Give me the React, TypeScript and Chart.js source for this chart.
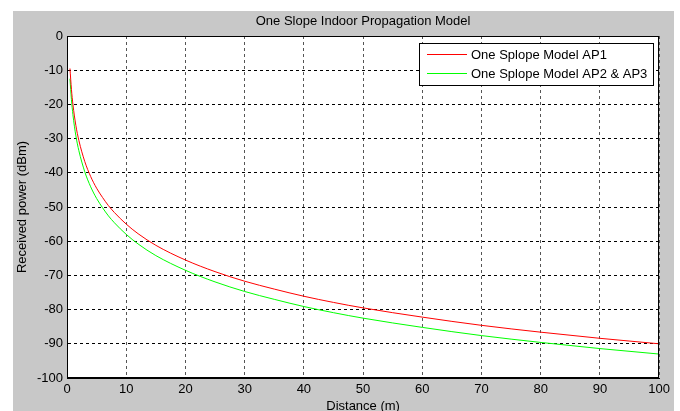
import React, { useEffect, useRef } from "react";
import { Chart, registerables } from "chart.js";

Chart.register(...registerables);

const chartTitle = "One Slope Indoor Propagation Model";
const xTitle = "Distance (m)";
const yTitle = "Received power (dBm)";
const seriesNames = ["One Splope Model AP1", "One Splope Model AP2 & AP3"];

const distances = [0.5, 0.75, 1, 1.5, 2, 3, 4, 5, 6, 7, 8, 10, 12, 15, 20, 25, 30, 35, 40, 45, 50, 60, 70, 80, 90, 100];
const apOne = [-9.5, -15.6, -20, -26.2, -30.5, -36.7, -41.1, -44.5, -47.2, -49.6, -51.6, -55, -57.8, -61.2, -65.5, -68.9, -71.7, -74, -76.1, -77.9, -79.5, -82.2, -84.6, -86.6, -88.4, -90];
const apTwoThree = [-12.5, -18.6, -23, -29.2, -33.5, -39.7, -44.1, -47.5, -50.2, -52.6, -54.6, -58, -60.8, -64.2, -68.5, -71.9, -74.7, -77, -79.1, -80.9, -82.5, -85.2, -87.6, -89.6, -91.4, -93];

const FONT = "'Liberation Sans', Arial, sans-serif";

const framePlugin = {
  id: "frame",
  beforeDraw(chart: any) {
    const { ctx, chartArea, width, height } = chart;
    ctx.save();
    ctx.fillStyle = "#c8c8c8";
    ctx.fillRect(0, 0, width, height);
    ctx.fillStyle = "#ffffff";
    ctx.fillRect(chartArea.left, chartArea.top, chartArea.right - chartArea.left, chartArea.bottom - chartArea.top);
    ctx.restore();
  },
  afterDraw(chart: any) {
    const { ctx, chartArea } = chart;
    ctx.save();
    ctx.strokeStyle = "#000";
    ctx.lineWidth = 1;
    ctx.strokeRect(
      Math.round(chartArea.left) + 0.5,
      Math.round(chartArea.top) + 0.5,
      Math.round(chartArea.right - chartArea.left) - 1,
      Math.round(chartArea.bottom - chartArea.top) - 1
    );
    // legend box
    ctx.font = "13px " + FONT;
    const sets = chart.data.datasets;
    let maxW = 0;
    sets.forEach((d: any) => {
      maxW = Math.max(maxW, ctx.measureText(d.label).width);
    });
    const boxW = Math.round(52 + maxW + 6);
    const boxH = 42;
    const bx = Math.round(chartArea.right) - 6 - boxW;
    const by = Math.round(chartArea.top) + 7;
    ctx.fillStyle = "#fff";
    ctx.fillRect(bx, by, boxW, boxH);
    ctx.strokeStyle = "#000";
    ctx.strokeRect(bx + 0.5, by + 0.5, boxW, boxH);
    sets.forEach((d: any, i: number) => {
      const cy = by + 11 + i * 19;
      ctx.strokeStyle = d.borderColor;
      ctx.lineWidth = 1;
      ctx.beginPath();
      ctx.moveTo(bx + 8, cy + 0.5);
      ctx.lineTo(bx + 48, cy + 0.5);
      ctx.stroke();
      ctx.fillStyle = "#000";
      ctx.textBaseline = "middle";
      ctx.textAlign = "left";
      ctx.fillText(d.label, bx + 52, cy + 1);
    });
    ctx.restore();
  },
};

export default function App() {
  const ref = useRef<HTMLCanvasElement | null>(null);

  useEffect(() => {
    document.body.style.margin = "0";
    if (!ref.current) return;
    const chart = new Chart(ref.current, {
      type: "line",
      data: {
        datasets: [
          {
            label: seriesNames[0],
            data: distances.map((d, i) => ({ x: d, y: apOne[i] })),
            borderColor: "#ff0000",
            borderWidth: 1,
            pointRadius: 0,
            cubicInterpolationMode: "monotone",
          },
          {
            label: seriesNames[1],
            data: distances.map((d, i) => ({ x: d, y: apTwoThree[i] })),
            borderColor: "#00ff00",
            borderWidth: 1,
            pointRadius: 0,
            cubicInterpolationMode: "monotone",
          },
        ],
      },
      options: {
        animation: false,
        responsive: false,
        maintainAspectRatio: false,
        devicePixelRatio: 1,
        layout: { padding: { left: 0, right: 14, top: 0, bottom: 0 } },
        plugins: {
          legend: { display: false },
          tooltip: { enabled: false },
          title: {
            display: true,
            fullSize: false,
            text: chartTitle,
            color: "#000",
            font: { family: FONT, size: 13, weight: "normal" },
            padding: { top: 2.2, bottom: 7.2 },
          },
        },
        scales: {
          x: {
            type: "linear",
            min: 0,
            max: 100,
            afterFit: (s: any) => {
              s.height = 33;
            },
            ticks: {
              stepSize: 10,
              color: "#000",
              padding: 4,
              maxRotation: 0,
              font: { family: FONT, size: 13 },
            },
            grid: {
              color: "#555",
              lineWidth: 1,
              drawTicks: false,
            },
            border: { display: true, color: "#000", width: 1, dash: [3, 3] },
            title: {
              display: true,
              text: xTitle,
              color: "#000",
              font: { family: FONT, size: 13 },
              padding: { top: 0, bottom: -3 },
            },
          },
          y: {
            type: "linear",
            min: -100,
            max: 0,
            afterFit: (s: any) => {
              s.width = 54;
            },
            ticks: {
              stepSize: 10,
              color: "#000",
              padding: 4,
              font: { family: FONT, size: 13 },
            },
            grid: {
              color: "#000",
              lineWidth: 1,
              drawTicks: false,
            },
            border: { display: true, color: "#000", width: 1, dash: [3, 3] },
            title: {
              display: true,
              text: yTitle,
              color: "#000",
              font: { family: FONT, size: 13 },
              padding: { top: 1.5, bottom: 0 },
            },
          },
        },
      } as any,
      plugins: [framePlugin],
    });
    return () => chart.destroy();
  }, []);

  return (
    <div style={{ position: "relative", width: 680, height: 411, background: "#fff", overflow: "hidden" }}>
      <div style={{ position: "absolute", left: 13, top: 11, width: 661, height: 400 }}>
        <canvas ref={ref} width={661} height={400} style={{ display: "block", width: 661, height: 400 }} />
      </div>
    </div>
  );
}
